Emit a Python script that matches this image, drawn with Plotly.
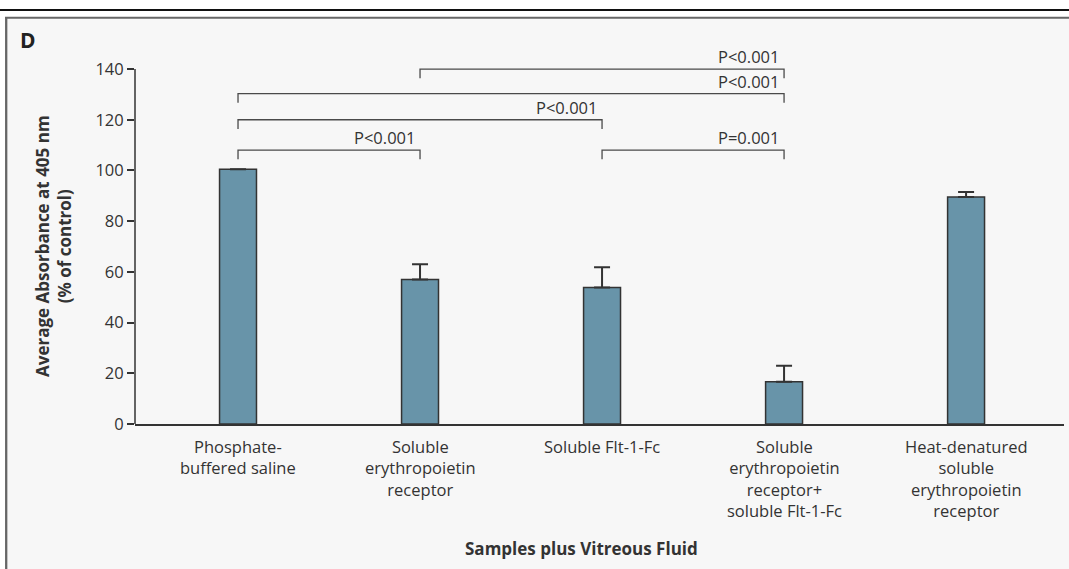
import plotly.graph_objects as go

# Sample groups (each mixed with vitreous fluid) and their mean absorbance
categories = [
    "Phosphate-<br>buffered saline",
    "Soluble<br>erythropoietin<br>receptor",
    "Soluble Flt-1-Fc",
    "Soluble<br>erythropoietin<br>receptor+<br>soluble Flt-1-Fc",
    "Heat-denatured<br>soluble<br>erythropoietin<br>receptor",
]
absorbance = [100.5, 57.0, 53.8, 16.7, 89.5]
error_plus = [None, 6.0, 8.0, 6.3, 2.0]

# Pairwise comparisons: (left group, right group, bracket height, label)
comparisons = [
    (1, 3, 140.0, "P<0.001"),
    (0, 3, 130.3, "P<0.001"),
    (0, 2, 120.0, "P<0.001"),
    (0, 1, 108.0, "P<0.001"),
    (2, 3, 108.0, "P=0.001"),
]

y_ticks = [0, 20, 40, 60, 80, 100, 120, 140]

FONT = "Open Sans"
INK = "#333333"
W, H = 1069, 569
L, R, T, B = 135, 5, 64, 145
PW, PH = W - L - R, H - T - B


def px_x(px):
    return (px - L) / PW


def px_y(py):
    return (H - B - py) / PH


x_pos = list(range(len(categories)))

fig = go.Figure()
fig.add_trace(go.Bar(
    x=x_pos,
    y=absorbance,
    width=0.203,
    marker=dict(color="#6894a9", line=dict(color=INK, width=1.5)),
    error_y=dict(type="data", symmetric=False, array=error_plus,
                 arrayminus=[0] * len(absorbance),
                 color=INK, thickness=2, width=8),
    hoverinfo="skip",
))

shapes = []
annotations = []

# y axis line spanning 0-140
shapes.append(dict(type="line", xref="paper", yref="y", x0=0, x1=0,
                   y0=0, y1=140, line=dict(color=INK, width=1.5)))

# significance brackets
drop = 3.6
for a, b, h, label in comparisons:
    shapes.append(dict(
        type="path", xref="x", yref="y",
        path=f"M {a},{h - drop} L {a},{h} L {b},{h} L {b},{h - drop}",
        line=dict(color="#4a4a4a", width=1.3),
    ))
    annotations.append(dict(
        x=b, y=h, xref="x", yref="y", text=label, showarrow=False,
        xanchor="right", yanchor="bottom", xshift=-3, yshift=-1,
        font=dict(family=FONT, size=16.5, color=INK),
    ))

# category labels under each bar
for i, cat in enumerate(categories):
    annotations.append(dict(
        x=i, y=px_y(433), xref="x", yref="paper", text=cat, showarrow=False,
        xanchor="center", yanchor="top", align="center",
        font=dict(family=FONT, size=16.5, color=INK),
    ))

# axis titles and panel letter
annotations.append(dict(
    x=px_x(53), y=px_y(246), xref="paper", yref="paper",
    text="<b>Average Absorbance at 405 nm<br>(% of control)</b>",
    showarrow=False, textangle=-90, xanchor="center", yanchor="middle",
    align="center", font=dict(family=FONT, size=17, color=INK),
))
annotations.append(dict(
    x=px_x(581), y=px_y(548), xref="paper", yref="paper",
    text="<b>Samples plus Vitreous Fluid</b>", showarrow=False,
    xanchor="center", yanchor="middle",
    font=dict(family=FONT, size=17, color=INK),
))
annotations.append(dict(
    x=px_x(18), y=px_y(40), xref="paper", yref="paper",
    text="<b>D</b>", showarrow=False, xanchor="left", yanchor="middle",
    font=dict(family=FONT, size=21, color="#222222"),
))

# panel frame: white strip on top, heavy rule, grey panel edges
shapes += [
    dict(type="rect", xref="paper", yref="paper", layer="above",
         x0=px_x(-2), x1=px_x(W + 2), y0=px_y(-2), y1=px_y(17),
         fillcolor="white", line=dict(width=0)),
    dict(type="rect", xref="paper", yref="paper", layer="above",
         x0=px_x(-2), x1=px_x(5), y0=px_y(-2), y1=px_y(H + 2),
         fillcolor="white", line=dict(width=0)),
    dict(type="line", xref="paper", yref="paper", layer="above",
         x0=px_x(0), x1=px_x(W + 2), y0=px_y(10), y1=px_y(10),
         line=dict(color="#111111", width=2)),
    dict(type="line", xref="paper", yref="paper", layer="above",
         x0=px_x(5), x1=px_x(W + 2), y0=px_y(17.8), y1=px_y(17.8),
         line=dict(color="#666666", width=2)),
    dict(type="line", xref="paper", yref="paper", layer="above",
         x0=px_x(6.2), x1=px_x(6.2), y0=px_y(17), y1=px_y(H + 2),
         line=dict(color="#666666", width=2.3)),
]

fig.update_layout(
    width=W, height=H,
    margin=dict(l=L, r=R, t=T, b=B, pad=0),
    paper_bgcolor="#f7f7f7",
    plot_bgcolor="rgba(0,0,0,0)",
    showlegend=False,
    shapes=shapes,
    annotations=annotations,
    font=dict(family=FONT, size=16.5, color=INK),
    xaxis=dict(range=[-0.566, 4.538], showgrid=False, zeroline=False,
               showline=True, linecolor=INK, linewidth=1.5,
               showticklabels=False, ticks="", fixedrange=True),
    yaxis=dict(range=[0, 142], showgrid=False, zeroline=False,
               showline=False, tickvals=y_ticks, ticks="outside",
               ticklen=7, tickwidth=1.5, tickcolor=INK,
               tickfont=dict(family=FONT, size=16.5, color=INK),
               fixedrange=True),
)

fig.write_html("out.html")
